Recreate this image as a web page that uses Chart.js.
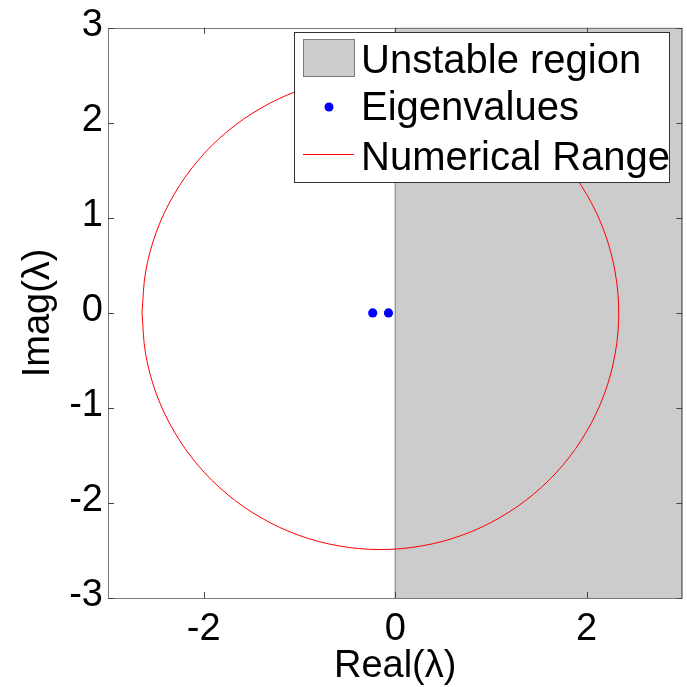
<!DOCTYPE html>
<html><head><meta charset="utf-8">
<script src="https://cdn.jsdelivr.net/npm/chart.js@4/dist/chart.umd.min.js"></script>
<style>html,body{margin:0;padding:0;background:#fff}#wrap{width:687px;height:687px;position:relative}</style>
</head><body><div id="wrap"><canvas id="c" width="687" height="687"></canvas></div>
<script>
// ---- data ----
const xTicks = [-2, 0, 2];
const yTicks = [-3, -2, -1, 0, 1, 2, 3];
const eigenX = [-0.235, -0.07];
const eigenY = [0, 0];
const rangeX = [-2.645,-2.607,-2.495,-2.311,-2.062,-1.756,-1.400,-1.007,-0.587,-0.155,0.277,0.697,1.090,1.446,1.752,2.001,2.185,2.297,2.335,2.297,2.185,2.001,1.752,1.446,1.090,0.697,0.277,-0.155,-0.587,-1.007,-1.400,-1.756,-2.062,-2.311,-2.495,-2.607,-2.645];
const rangeY = [0,0.432,0.852,1.245,1.601,1.907,2.156,2.340,2.452,2.490,2.452,2.340,2.156,1.907,1.601,1.245,0.852,0.432,0,-0.432,-0.852,-1.245,-1.601,-1.907,-2.156,-2.340,-2.452,-2.490,-2.452,-2.340,-2.156,-1.907,-1.601,-1.245,-0.852,-0.432,0];
const unstableX = [0, 0, 3, 3];
const unstableY = [-3, 3, 3, -3];
const seriesLabels = ['Unstable region', 'Eigenvalues', 'Numerical Range'];

const zip = (xs, ys) => xs.map((x, i) => ({x: x, y: ys[i]}));
const FONT = 'Liberation Sans, Arial, sans-serif';

const frame = {
  id: 'frame',
  afterDatasetsDraw(chart) {
    const ctx = chart.ctx, a = chart.chartArea;
    const xs = chart.scales.x, ys = chart.scales.y;
    ctx.save();
    ctx.strokeStyle = '#7a7a7a';
    ctx.lineWidth = 1;
    ctx.strokeRect(Math.round(a.left) + 0.5, Math.round(a.top) + 0.5, Math.round(a.right - a.left) - 1, Math.round(a.bottom - a.top));
    ctx.strokeStyle = '#444';
    const L = 6;
    ctx.beginPath();
    xTicks.forEach(v => {
      const p = Math.round(xs.getPixelForValue(v)) + 0.5;
      ctx.moveTo(p, a.bottom); ctx.lineTo(p, a.bottom - L);
      ctx.moveTo(p, a.top); ctx.lineTo(p, a.top + L);
    });
    yTicks.forEach(v => {
      const p = Math.round(ys.getPixelForValue(v)) + 0.5;
      ctx.moveTo(a.left, p); ctx.lineTo(a.left + L, p);
      ctx.moveTo(a.right, p); ctx.lineTo(a.right - L, p);
    });
    ctx.stroke();
    ctx.restore();
  },
  afterDraw(chart) {
    const ctx = chart.ctx;
    const ds = chart.data.datasets;
    ctx.save();
    ctx.fillStyle = '#fff';
    ctx.fillRect(294, 32, 375, 150);
    ctx.strokeStyle = '#333';
    ctx.lineWidth = 1;
    ctx.strokeRect(294.5, 32.5, 375, 150);
    // swatch
    ctx.fillStyle = '#cccccc';
    ctx.fillRect(303, 39, 51, 37);
    ctx.strokeStyle = '#7a7a7a';
    ctx.strokeRect(303.5, 39.5, 51, 37);
    // dot
    ctx.fillStyle = '#0000ff';
    ctx.beginPath(); ctx.arc(329, 107, 4.5, 0, Math.PI * 2); ctx.fill();
    // line
    ctx.strokeStyle = '#ff0000';
    ctx.beginPath(); ctx.moveTo(303, 154.5); ctx.lineTo(354, 154.5); ctx.stroke();
    ctx.fillStyle = '#000';
    ctx.font = '40px ' + FONT;
    ctx.textBaseline = 'alphabetic';
    ctx.textAlign = 'left';
    ctx.fillText(ds[0].label, 361, 73);
    ctx.fillText(ds[1].label, 361, 120);
    ctx.fillText(ds[2].label, 361, 170);
    ctx.restore();
  }
};

new Chart(document.getElementById('c'), {
  type: 'scatter',
  data: {
    datasets: [
      {label: seriesLabels[0], data: zip(unstableX, unstableY), showLine: true, fill: {value: -3},
       backgroundColor: '#cccccc', borderColor: '#7a7a7a', borderWidth: 1, pointRadius: 0, order: 3},
      {label: seriesLabels[1], data: zip(eigenX, eigenY), showLine: false, pointRadius: 4.6,
       pointBackgroundColor: '#0000ff', pointBorderColor: '#0000ff', pointBorderWidth: 0, order: 1},
      {label: seriesLabels[2], data: zip(rangeX, rangeY), showLine: true, tension: 0.35, fill: false,
       borderColor: '#ff0000', borderWidth: 1, pointRadius: 0, order: 2}
    ]
  },
  options: {
    responsive: false,
    animation: false,
    events: [],
    layout: {padding: {top: 22, right: 1, left: 0, bottom: 0}},
    plugins: {legend: {display: false}, tooltip: {enabled: false}},
    scales: {
      x: {
        type: 'linear', min: -3, max: 3,
        afterBuildTicks: s => { s.ticks = xTicks.map(v => ({value: v})); },
        afterFit: s => { s.height = 89; },
        grid: {display: false, drawTicks: false},
        border: {display: false},
        ticks: {color: '#000', font: {family: FONT, size: 38}, padding: 9, maxRotation: 0, autoSkip: false},
        title: {display: true, text: 'Real(λ)', color: '#000', font: {family: FONT, size: 38, lineHeight: 1}, padding: {top: 0, bottom: 1}}
      },
      y: {
        type: 'linear', min: -3, max: 3,
        afterBuildTicks: s => { s.ticks = yTicks.map(v => ({value: v})); },
        afterFit: s => { s.width = 108; },
        grid: {display: false, drawTicks: false},
        border: {display: false},
        ticks: {color: '#000', font: {family: FONT, size: 38}, padding: 5, labelOffset: -2, autoSkip: false},
        title: {display: true, text: 'Imag(λ)', color: '#000', font: {family: FONT, size: 38, lineHeight: 1}, padding: {top: 20, bottom: 0}}
      }
    }
  },
  plugins: [frame]
});
</script>
</body></html>
